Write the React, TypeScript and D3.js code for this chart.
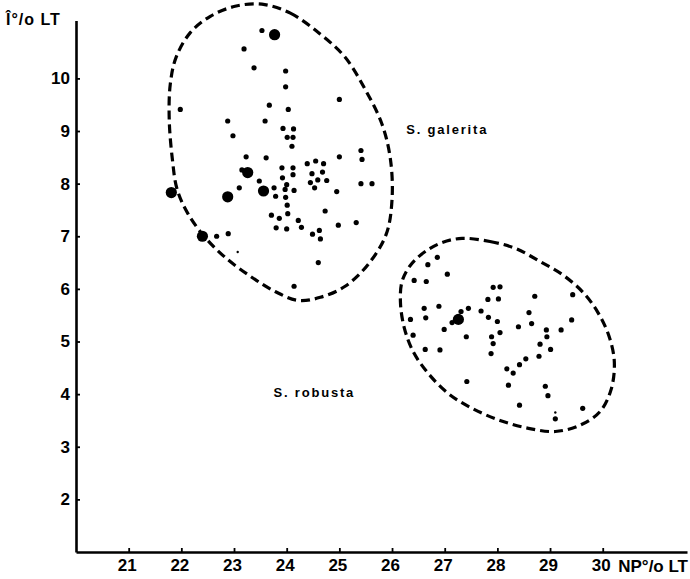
import React, { useEffect, useRef } from 'react';
import * as d3 from 'd3';

const xTicks = [21, 22, 23, 24, 25, 26, 27, 28, 29, 30];
const yTicks = [2, 3, 4, 5, 6, 7, 8, 9, 10];

// S. galerita: [NP %LT, Î %LT]
const galeritaSmall: [number, number][] = [
  [23.53, 10.91], [23.19, 10.56], [23.38, 10.2], [23.98, 10.14], [23.98, 9.84],
  [25.0, 9.6], [21.98, 9.41], [23.67, 9.49], [24.03, 9.41], [22.88, 9.19],
  [23.59, 9.19], [23.93, 9.05], [24.13, 9.04], [22.98, 8.91], [24.01, 8.88],
  [24.12, 8.88], [24.1, 8.71], [25.41, 8.63], [25.43, 8.46], [23.23, 8.51],
  [23.61, 8.49], [25.0, 8.51], [24.39, 8.38], [24.55, 8.43], [24.7, 8.38],
  [23.91, 8.3], [24.12, 8.3], [24.12, 8.17], [23.15, 8.26], [24.48, 8.19],
  [24.68, 8.22], [23.48, 8.05], [23.92, 8.11], [24.45, 8.02], [24.59, 8.07],
  [24.76, 8.06], [25.41, 8.0], [25.62, 8.0], [24.0, 7.98], [23.76, 7.92],
  [23.97, 7.89], [24.14, 7.87], [24.53, 7.92], [24.95, 7.85], [23.1, 7.92],
  [23.79, 7.76], [23.98, 7.74], [24.01, 7.59], [24.73, 7.48], [23.71, 7.4],
  [23.86, 7.34], [24.02, 7.43], [24.22, 7.3], [23.8, 7.16], [24.0, 7.14],
  [24.28, 7.17], [24.98, 7.21], [25.32, 7.26], [24.49, 7.04], [24.62, 7.11],
  [24.64, 6.95], [22.67, 7.0], [22.89, 7.05], [24.6, 6.5], [24.14, 6.05],
];
const galeritaLarge: [number, number][] = [
  [23.77, 10.83], [21.81, 7.83], [22.88, 7.75], [23.26, 8.21], [23.56, 7.86], [22.4, 7.0],
];

// S. robusta
const robustaSmall: [number, number][] = [
  [26.86, 6.6], [26.68, 6.46], [27.05, 6.28], [26.42, 6.16], [26.65, 6.14],
  [27.92, 6.03], [28.05, 6.04], [27.82, 5.8], [28.02, 5.81], [26.89, 5.67],
  [26.61, 5.63], [27.45, 5.63], [27.31, 5.57], [26.64, 5.45], [26.35, 5.42],
  [27.69, 5.58], [27.83, 5.46], [27.14, 5.36], [28.0, 5.38], [26.99, 5.23],
  [26.4, 5.12], [27.41, 5.09], [27.89, 5.09], [27.92, 4.96], [26.63, 4.85],
  [26.91, 4.84], [27.88, 4.77], [27.42, 4.24], [28.71, 5.86], [29.43, 5.89],
  [28.6, 5.55], [28.65, 5.34], [29.41, 5.41], [28.4, 5.28], [28.93, 5.22],
  [29.21, 5.22], [28.05, 5.17], [28.94, 5.09], [28.81, 4.95], [29.01, 4.85],
  [28.79, 4.72], [28.54, 4.67], [28.42, 4.56], [28.18, 4.48], [28.3, 4.4],
  [28.21, 4.17], [28.91, 4.15], [28.96, 3.97], [28.42, 3.79], [29.62, 3.73],
  [29.1, 3.53],
];
const robustaLarge: [number, number][] = [[27.26, 5.42]];
const faintPoints: [number, number][] = [[23.07, 6.7], [29.1, 3.65]];

// hand-drawn dashed outlines
const galeritaOutline: [number, number][] = [
  [23.53, 11.41], [24.07, 11.24], [24.64, 10.84], [25.11, 10.4], [25.49, 9.79],
  [25.81, 9.13], [25.97, 8.46], [26.0, 7.7], [25.89, 7.04], [25.55, 6.47],
  [25.11, 6.05], [24.64, 5.84], [24.22, 5.78], [23.78, 5.95], [23.31, 6.24],
  [22.83, 6.6], [22.45, 6.98], [22.13, 7.42], [21.92, 7.89], [21.83, 8.46],
  [21.77, 9.22], [21.79, 9.89], [21.9, 10.4], [22.17, 10.87], [22.55, 11.18],
  [23.02, 11.37],
];
const robustaOutline: [number, number][] = [
  [27.33, 6.96], [27.86, 6.9], [28.34, 6.77], [28.81, 6.52], [29.25, 6.26],
  [29.63, 5.93], [29.91, 5.55], [30.12, 5.1], [30.22, 4.62], [30.16, 4.09],
  [29.95, 3.67], [29.57, 3.41], [29.1, 3.29], [28.59, 3.35], [28.05, 3.5],
  [27.52, 3.73], [27.07, 4.01], [26.69, 4.39], [26.4, 4.81], [26.23, 5.27],
  [26.16, 5.74], [26.19, 6.14], [26.35, 6.45], [26.63, 6.71], [26.95, 6.88],
];

const FONT = '"Liberation Sans", Arial, sans-serif';

const GroupChart = () => {
  const ref = useRef<SVGSVGElement | null>(null);

  useEffect(() => {
    if (!ref.current) return;
    const svg = d3.select(ref.current);
    svg.selectAll('*').remove();

    const x = d3.scaleLinear().domain([20, 31.6]).range([76, 687]);
    const y = d3.scaleLinear().domain([1, 11.1]).range([552, 20.5]);

    // outlines
    const outline = d3.line<[number, number]>()
      .x(d => x(d[0]))
      .y(d => y(d[1]))
      .curve(d3.curveCatmullRomClosed);

    svg.selectAll('.outline')
      .data([galeritaOutline, robustaOutline])
      .enter()
      .append('path')
      .attr('class', 'outline')
      .attr('d', d => outline(d))
      .attr('fill', 'none')
      .attr('stroke', '#000')
      .attr('stroke-width', 3.2)
      .attr('stroke-dasharray', '9 5');

    // points
    const dots = (data: [number, number][], r: number) => {
      svg.append('g')
        .selectAll('circle')
        .data(data)
        .enter()
        .append('circle')
        .attr('cx', d => x(d[0]))
        .attr('cy', d => y(d[1]))
        .attr('r', r)
        .attr('fill', '#000');
    };
    dots(galeritaSmall, 2.6);
    dots(robustaSmall, 2.6);
    dots(galeritaLarge, 5.6);
    dots(robustaLarge, 5.6);
    dots(faintPoints, 1.2);

    // axes
    const xAxis = svg.append('g')
      .attr('transform', `translate(0,${y(1)})`)
      .call(d3.axisBottom(x).tickValues(xTicks).tickSize(-4).tickSizeOuter(0).tickPadding(7));
    const yAxis = svg.append('g')
      .attr('transform', `translate(${x(20)},0)`)
      .call(d3.axisLeft(y).tickValues(yTicks).tickSize(-4).tickSizeOuter(0).tickPadding(6));

    [xAxis, yAxis].forEach(g => {
      g.select('.domain').attr('stroke-width', 2.6);
      g.selectAll('.tick line').attr('stroke-width', 1.8);
      g.selectAll('.tick text')
        .attr('font-family', FONT)
        .attr('font-weight', 'bold')
        .attr('font-size', 17)
        .attr('fill', '#000');
    });
    xAxis.selectAll('.tick text').attr('dx', -2);

    // axis titles
    svg.append('text')
      .attr('x', 6)
      .attr('y', 25)
      .attr('font-family', FONT)
      .attr('font-weight', 'bold')
      .attr('font-size', 16)
      .attr('letter-spacing', 1)
      .text('Î°/o LT');

    svg.append('text')
      .attr('x', 688)
      .attr('y', 572)
      .attr('text-anchor', 'end')
      .attr('font-family', FONT)
      .attr('font-weight', 'bold')
      .attr('font-size', 17)
      .text('NP°/o LT');

    // species labels
    svg.append('text')
      .attr('x', x(26.27))
      .attr('y', y(8.95))
      .attr('font-family', FONT)
      .attr('font-weight', 'bold')
      .attr('font-size', 13)
      .attr('letter-spacing', 1.8)
      .text('S. galerita');

    svg.append('text')
      .attr('x', x(23.75))
      .attr('y', y(3.95))
      .attr('font-family', FONT)
      .attr('font-weight', 'bold')
      .attr('font-size', 13)
      .attr('letter-spacing', 1.8)
      .text('S. robusta');
  }, []);

  return (
    <svg
      ref={ref}
      width={690}
      height={579}
      style={{ position: 'absolute', left: 0, top: 0, background: '#fff' }}
    />
  );
};

export default function App() {
  return <GroupChart />;
}
